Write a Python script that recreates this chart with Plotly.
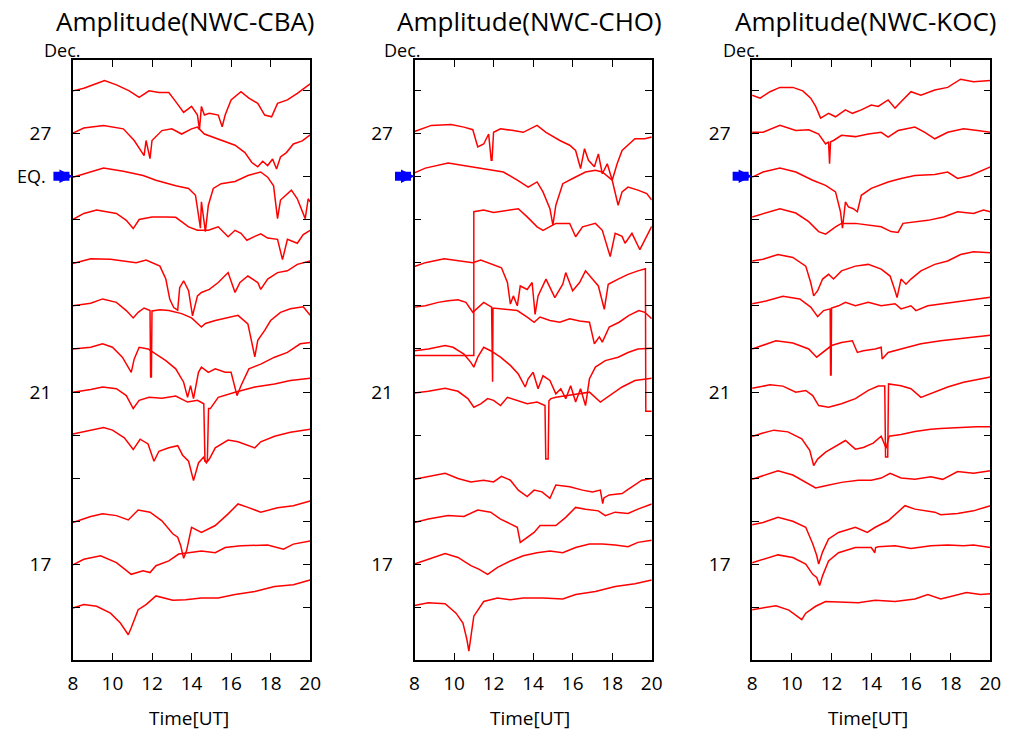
import plotly.graph_objects as go

# ---------------- DATA ----------------
# Time axis (UT hours) and amplitude deviation (arbitrary units, 10 units = one day spacing)
DAYS_TICKS = [16, 17, 18, 19, 20, 21, 22, 23, 24, 25, 26, 27, 28]
DAY_LABELS = ["", "17", "", "", "", "21", "", "", "", "", "", "27", ""]
X_TICKS = [8, 10, 12, 14, 16, 18, 20]
EQ_DAY = 26

# ---- NWC-CBA ----
cba28_t = [8, 8.55, 9.2, 9.6, 10.2, 10.85, 11.35, 11.6, 11.85, 12.35, 12.85, 13.2, 13.6, 14.0, 14.3, 14.4, 14.5, 14.65, 14.9, 15.35, 15.55, 15.7, 16.0, 16.5, 16.9, 17.35, 17.7, 18.05, 18.35, 18.85, 19.35, 20]
cba28_a = [-0.2, 0.4, 1.5, 2.2, 1.2, -0.2, -1.7, -0.9, -0.2, -0.6, -0.6, -2.7, -5.2, -3.8, -5.8, -9.2, -3.8, -5.8, -5.4, -5.8, -8.5, -5.8, -2.3, -0.4, -1.9, -3.1, -5.8, -6.2, -3.1, -2.3, -0.8, 1.4]
cba27_t = [8, 8.55, 9.55, 10.55, 11.1, 11.45, 11.6, 11.7, 11.9, 12.0, 12.5, 13.0, 13.5, 14.0, 14.3, 14.65, 15.35, 16.2, 16.7, 17.05, 17.35, 17.6, 17.85, 18.1, 18.3, 18.5, 18.8, 19.15, 19.6, 20]
cba27_a = [0, 1.2, 1.8, 1.0, -1.7, -4.0, -5.2, -1.7, -5.9, -1.7, 0.6, 1.0, -0.2, 1.0, 1.4, -0.2, -1.3, -2.8, -4.5, -6.8, -7.8, -6.5, -7.5, -6.0, -8.3, -5.5, -4.5, -2.5, -1.8, -0.4]
cba26_t = [8, 8.55, 9.55, 10.55, 11.55, 12.2, 13.2, 13.85, 14.2, 14.45, 14.5, 14.7, 14.85, 15.1, 15.5, 16.2, 16.85, 17.5, 17.85, 18.15, 18.35, 18.5, 19.05, 19.35, 19.6, 19.75, 19.9, 20]
cba26_a = [-0.2, 0.6, 1.9, 1.2, 0.2, -0.9, -2.2, -2.8, -4.4, -12.0, -5.9, -12.8, -6.7, -2.8, -1.7, -1.2, 0.2, 1.0, -0.2, -2.2, -9.8, -5.5, -3.2, -5.2, -8.2, -9.8, -5.2, -5.9]
cba25_t = [8, 8.55, 9.2, 10.2, 10.7, 11.05, 11.35, 12.0, 12.7, 13.2, 13.85, 14.3, 14.85, 15.35, 15.85, 16.2, 16.5, 16.8, 17.2, 17.5, 17.85, 18.35, 18.6, 18.85, 19.35, 19.65, 20]
cba25_a = [0, 1.4, 2.2, 1.4, -0.2, -2.1, 0, 0.6, 0.6, 0.5, -1.7, -2.5, -2.5, -1.7, -4.0, -2.5, -3.2, -4.8, -3.9, -3.3, -4.3, -4.6, -9.3, -4.6, -5.5, -3.5, -2.5]
cba24_t = [8, 8.9, 9.9, 11.2, 11.7, 12.4, 12.7, 12.9, 13.1, 13.3, 13.4, 13.6, 13.85, 14.05, 14.3, 14.5, 14.9, 15.35, 15.85, 16.2, 16.45, 16.85, 17.35, 17.5, 17.85, 18.35, 18.85, 19.35, 20]
cba24_a = [-0.2, 0.9, 0.8, 0, 0.6, -0.8, -3.8, -8.5, -10.4, -11.0, -5.8, -4.2, -6.5, -12.3, -7.7, -6.9, -6.2, -4.6, -2.3, -6.9, -4.6, -3.1, -4.6, -6.2, -3.8, -2.3, -1.9, -0.4, 0.4]
cba23_t = [8, 8.9, 9.5, 10.2, 10.7, 11.05, 11.3, 11.6, 11.9, 11.93, 11.97, 12.0, 12.4, 12.85, 13.5, 14.0, 14.5, 14.7, 15.2, 15.85, 16.35, 16.85, 17.05, 17.2, 17.35, 17.7, 18.0, 18.5, 19.0, 19.65, 20]
cba23_a = [0, 0.6, 1.6, 0.8, -1.1, -2.8, -1.5, -0.5, -1.1, -16.5, -16.5, -1.2, -0.9, -1.1, -1.8, -2.8, -4.9, -4.1, -3.4, -2.8, -2.2, -4.2, -8.8, -11.8, -8.0, -5.7, -3.4, -1.5, -0.7, -0.2, -2.2]
cba22_t = [8, 8.9, 9.5, 10.0, 10.5, 10.95, 11.1, 11.35, 11.8, 12.2, 12.7, 13.2, 13.6, 13.8, 13.95, 14.1, 14.35, 14.5, 14.85, 15.2, 15.7, 16.0, 16.2, 16.3, 16.5, 16.9, 17.5, 18.2, 18.85, 19.5, 20]
cba22_a = [0, 0.4, 1.2, 0.4, -1.9, -5.4, -2.3, 0.4, 0, -1.2, -2.7, -4.6, -7.7, -11.2, -8.5, -11.5, -5.4, -4.2, -5.4, -4.6, -5.4, -5.4, -9.2, -10.8, -8.5, -4.6, -3.5, -1.9, -0.8, 1.2, 1.5]
cba21_t = [8, 8.9, 9.5, 10.2, 10.7, 11.05, 11.35, 11.85, 12.5, 13.2, 13.8, 14.3, 14.62, 14.68, 14.8, 14.86, 14.95, 15.35, 16.2, 17.2, 18.2, 19.0, 20]
cba21_a = [0, 0.6, 1.2, 0.8, -0.8, -3.8, -1.9, -1.2, -1.4, -0.9, -2.3, -1.9, -2.7, -16.0, -16.0, -3.8, -3.8, -1.2, 0, 1.2, 1.9, 2.7, 3.2]
cba20_t = [8, 9, 9.55, 10, 10.6, 11.05, 11.4, 11.8, 12.1, 12.35, 12.85, 13.3, 13.55, 13.85, 14.1, 14.35, 14.6, 14.75, 14.9, 15.2, 15.85, 16.35, 16.85, 17.2, 17.5, 18.2, 19, 20]
cba20_a = [0.3, 1.2, 1.8, 1.2, -0.6, -3.3, -0.9, -2.0, -6.0, -3.7, -2.9, -2.4, -4.6, -6.0, -10.5, -6.4, -5.1, -6.4, -5.5, -2.9, -1.1, -1.5, -2.4, -2.9, -1.5, -0.2, 0.7, 1.4]
cba18_t = [8, 8.9, 9.5, 10.2, 10.8, 11.3, 11.9, 12.5, 13.05, 13.3, 13.45, 13.6, 13.75, 14.0, 14.5, 15.2, 15.85, 16.35, 16.85, 17.5, 18.35, 19.15, 20]
cba18_a = [-0.2, 1.2, 1.8, 1.4, 0.4, 2.7, 2.2, 0.2, -2.8, -3.6, -5.5, -8.5, -6.7, -1.3, -2.5, -0.9, 1.8, 4.1, 3.3, 2.2, 3.2, 3.7, 4.8]
cba17_t = [8, 8.55, 9.4, 10.2, 10.95, 11.55, 11.9, 12.2, 12.85, 13.35, 13.85, 14.5, 15.2, 15.7, 16.5, 17.85, 18.65, 19.15, 20]
cba17_a = [0, 1.3, 2.1, 0.5, -2.2, -1.4, -1.8, -0.2, 0.9, 2.5, 2.8, 3.2, 2.8, 4.0, 4.4, 4.6, 3.6, 4.8, 5.5]
cba16_t = [8, 8.55, 9.2, 9.9, 10.4, 10.7, 10.8, 10.95, 11.3, 11.7, 12.2, 13.05, 13.7, 14.5, 15.35, 16.2, 17.2, 18.2, 19.15, 20]
cba16_a = [0, 0.8, 0.4, -1.2, -3.5, -5.4, -6.2, -4.6, -0.4, 0.8, 2.8, 1.8, 1.9, 2.3, 2.3, 3.1, 3.8, 5.0, 5.4, 6.5]

# ---- NWC-CHO ----
cho27_t = [8, 8.35, 8.85, 9.85, 10.5, 10.95, 11.2, 11.5, 11.75, 11.88, 11.92, 12.0, 12.35, 13.0, 13.5, 14.2, 14.65, 15.35, 15.85, 16.15, 16.4, 16.6, 16.8, 17.1, 17.3, 17.5, 17.75, 18.0, 18.25, 18.5, 18.8, 19.15, 19.65, 20]
cho27_a = [0.4, 1.0, 1.8, 2.0, 1.4, 0.8, -3.2, -2.5, -0.2, -6.3, -6.3, 0.2, 1.0, 0.6, 0.2, 1.8, 0.2, -1.7, -2.8, -4.0, -8.2, -3.6, -6.3, -7.8, -4.8, -9.4, -7.1, -10.9, -7.1, -4.0, -2.8, -1.3, -1.3, -0.9]
cho26_t = [8, 8.55, 9.7, 10.5, 11.5, 12.5, 13.2, 13.75, 14.2, 14.5, 14.85, 15.0, 15.15, 15.5, 16.0, 16.65, 17.15, 17.5, 18.0, 18.3, 18.5, 18.8, 19.3, 19.75, 20]
cho26_a = [0.8, 1.9, 3.1, 2.5, 1.6, 1.0, -0.9, -2.5, -1.3, -3.6, -7.5, -11.3, -6.7, -1.7, -0.5, 1.0, 1.4, 1.0, -0.9, -6.7, -3.6, -2.5, -3.2, -4.0, -5.5]
cho25_t = [8, 11.0, 11.0, 11.5, 12.0, 12.85, 13.25, 13.7, 14.2, 14.5, 14.85, 15.15, 15.85, 16.15, 16.5, 17.15, 17.5, 17.9, 18.15, 18.5, 18.65, 19.0, 19.4, 19.65, 20]
cho25_a = [-31.5, -31.5, 1.8, 2.2, 1.6, 2.2, 2.5, 0.6, -1.7, -2.5, -1.7, -0.9, -0.9, -4.0, -1.7, -0.9, -2.5, -8.6, -3.2, -3.9, -5.5, -3.2, -7.0, -4.6, -1.6]
cho24_t = [8, 8.55, 9.5, 10.35, 10.95, 11.35, 12.0, 12.4, 12.7, 12.85, 13.0, 13.2, 13.35, 13.7, 13.95, 14.1, 14.25, 14.65, 15.1, 15.5, 15.65, 16.0, 16.35, 16.65, 17.0, 17.3, 17.6, 17.8, 18.3, 18.8, 19.3, 19.68, 19.7, 20]
cho24_a = [-0.9, 0, 0.9, 0.4, 0, 0.6, -0.4, -1.2, -4.6, -9.6, -7.7, -10.0, -5.4, -6.2, -4.6, -12.0, -7.7, -3.8, -8.1, -5.0, -2.3, -6.5, -4.6, -1.9, -3.8, -5.4, -10.8, -5.0, -3.8, -2.7, -1.9, -1.4, -34.4, -34.4]
cho23_t = [8, 8.55, 9.2, 9.7, 10.2, 10.6, 10.95, 11.3, 11.5, 11.9, 11.92, 11.95, 11.97, 12.5, 13.2, 13.7, 14.05, 14.35, 14.85, 15.35, 15.85, 16.35, 16.85, 17.1, 17.35, 17.5, 17.85, 18.35, 18.85, 19.35, 19.65, 20]
cho23_a = [-0.3, 0, 0.8, 1.2, 1.4, 0.8, -1.5, 0, 0.8, -0.3, -17.6, -17.6, -0.5, -0.7, -1.1, -2.6, -3.8, -2.6, -3.4, -3.8, -3.0, -3.5, -3.8, -8.8, -7.2, -8.4, -4.9, -3.8, -2.2, -1.1, -1.5, -3.0]
cho22_t = [8, 8.7, 9.55, 9.95, 10.5, 10.85, 11.0, 11.2, 11.5, 11.85, 12.35, 12.85, 13.25, 13.6, 13.75, 14.0, 14.25, 14.5, 14.85, 15.15, 15.4, 15.65, 15.9, 16.15, 16.4, 16.65, 16.85, 17.15, 17.65, 18.3, 18.8, 19.3, 20]
cho22_a = [-0.4, 0, 0.8, 0.4, -1.2, -3.1, -4.2, -1.9, 0.4, -0.4, -1.9, -3.8, -5.8, -8.8, -6.9, -5.4, -9.2, -6.2, -7.3, -10.4, -9.2, -11.5, -8.5, -12.3, -9.2, -13.1, -6.9, -4.2, -2.7, -1.9, -0.8, 0, 0.2]
cho21_t = [8, 8.7, 9.55, 10.2, 10.7, 11.0, 11.35, 11.7, 12.0, 12.35, 12.7, 13.2, 13.7, 14.2, 14.6, 14.64, 14.76, 14.8, 14.9, 15.15, 15.65, 16.15, 16.85, 17.4, 17.85, 18.5, 19.15, 20]
cho21_a = [-0.2, 0.2, 0.9, 0.2, -1.5, -3.5, -2.7, -1.5, -1.9, -3.1, -1.2, -1.9, -2.7, -2.3, -3.1, -15.5, -15.5, -2.0, -1.5, -1.2, -0.8, -0.4, 0, -2.3, -0.8, 1.2, 2.7, 3.2]
cho19_t = [8, 8.7, 9.55, 10.2, 10.85, 11.5, 12.0, 12.4, 12.85, 13.25, 13.7, 14.05, 14.45, 14.85, 15.15, 15.85, 16.5, 17.0, 17.4, 17.52, 17.58, 17.85, 18.5, 18.75, 19.15, 19.5, 20]
cho19_a = [-0.2, 0.5, 1.2, 0, -0.8, -0.4, -0.8, 0.5, -0.4, -2.7, -4.2, -2.7, -3.1, -4.6, -1.5, -1.9, -2.7, -3.1, -2.7, -5.8, -4.5, -3.8, -3.5, -2.7, -1.5, -0.4, 0]
cho18_t = [8, 8.7, 9.7, 10.5, 11.2, 11.85, 12.35, 12.85, 13.2, 13.35, 13.6, 14.05, 14.35, 15.15, 15.65, 16.15, 16.65, 17.3, 17.65, 18.15, 18.8, 19.3, 20]
cho18_a = [-0.2, 0.6, 1.4, 1.2, 2.7, 2.2, 0.6, -0.5, -1.3, -4.8, -4.0, -2.5, -0.9, -0.9, 1.0, 3.3, 2.9, 2.5, 1.4, 2.2, 1.9, 2.9, 4.1]
cho17_t = [8, 8.7, 9.55, 10.2, 10.85, 11.25, 11.7, 12.2, 12.85, 13.5, 14.2, 14.85, 15.5, 16.15, 16.85, 17.5, 18.15, 18.8, 19.3, 20]
cho17_a = [0.2, 1.3, 2.6, 1.7, -0.2, -1.0, -2.2, -0.6, 0.9, 2.1, 2.8, 3.2, 2.8, 4.0, 4.8, 4.8, 4.6, 4.2, 5.2, 5.7]
cho16_t = [8, 8.7, 9.55, 10.1, 10.45, 10.65, 10.75, 10.85, 11.0, 11.5, 12.2, 12.85, 13.5, 14.5, 15.5, 16.15, 17.15, 18.15, 19.15, 20]
cho16_a = [0.6, 1.2, 1.0, -1.2, -3.5, -7.3, -10.0, -6.5, -1.9, 1.5, 2.3, 1.9, 2.3, 2.3, 2.1, 3.1, 3.8, 5.0, 5.6, 6.5]

# ---- NWC-KOC ----
koc28_t = [8, 8.4, 8.9, 9.4, 10.05, 10.55, 10.95, 11.2, 11.45, 11.85, 12.2, 12.7, 13.05, 13.5, 14.0, 14.35, 14.85, 15.2, 15.5, 16.0, 16.5, 17.2, 17.85, 18.5, 19.15, 20]
koc28_a = [-1.2, -1.9, -0.4, 0.6, 0.6, -0.2, -1.9, -3.8, -6.5, -5.4, -6.2, -4.6, -5.4, -4.6, -3.5, -3.8, -2.3, -4.2, -2.7, -0.4, -1.2, 0, 0.6, 2.5, 1.9, 2.2]
koc27_t = [8, 8.55, 9.4, 10.2, 10.85, 11.35, 11.7, 11.85, 11.9, 11.95, 12.1, 12.5, 13.2, 13.85, 14.5, 14.85, 15.35, 16.2, 16.7, 17.2, 17.85, 18.65, 19.35, 20]
koc27_a = [0.2, 0.2, 1.8, 0.6, 0.8, -0.2, -2.5, -2.0, -7.1, -2.0, -1.7, -0.5, -0.8, -0.2, 0.2, -0.9, 0.6, 1.4, 0.2, -1.3, 0.2, 1.0, 0.6, 0.2]
koc26_t = [8, 8.55, 9.4, 10.2, 11.05, 11.7, 12.2, 12.45, 12.55, 12.7, 12.85, 13.1, 13.3, 13.5, 14.0, 14.85, 15.5, 16.2, 17.2, 17.85, 18.35, 19.0, 20]
koc26_a = [-0.2, 1.0, 1.9, 1.0, -0.9, -2.1, -3.6, -8.2, -12.0, -5.9, -7.1, -7.5, -8.2, -4.4, -2.8, -1.3, -0.5, 0.2, 0.4, 1.0, -0.5, 0.2, 2.2]
koc25_t = [8, 8.55, 9.4, 10.2, 10.85, 11.35, 11.7, 12.2, 12.5, 13.2, 13.85, 14.5, 15.0, 15.35, 15.6, 16.2, 16.85, 17.65, 18.35, 19.15, 19.65, 20]
koc25_a = [0.6, 1.4, 2.5, 1.5, -0.5, -2.8, -3.4, -1.7, -0.9, -0.9, -1.3, -1.7, -2.8, -3.0, -0.9, -0.5, -0.2, 0.6, 1.8, 1.4, 2.2, 1.8]
koc24_t = [8, 8.55, 9.3, 10.05, 10.7, 10.95, 11.1, 11.3, 11.55, 11.85, 12.1, 12.5, 13.2, 13.85, 14.5, 14.95, 15.2, 15.3, 15.5, 15.75, 16.0, 16.5, 17.2, 17.85, 18.5, 19.15, 20]
koc24_a = [0.4, 0.8, 1.9, 1.2, -0.8, -4.6, -7.7, -6.5, -3.8, -2.7, -3.8, -1.9, -0.8, -0.4, -1.5, -3.1, -6.5, -8.1, -3.8, -5.0, -3.8, -1.9, -0.4, 0.4, 1.9, 2.5, 2.3]
koc23_t = [8, 8.7, 9.55, 10.4, 10.95, 11.3, 11.6, 11.85, 11.93, 11.95, 11.98, 12.0, 12.35, 12.7, 13.2, 13.85, 14.5, 15.2, 15.5, 16.0, 16.25, 16.85, 17.65, 18.65, 20]
koc23_a = [0.5, 1.1, 2.2, 1.6, -0.3, -2.5, -1.1, -0.7, -0.7, -16.0, -16.0, -0.5, 0, 0.8, 0, 0.8, 0, 0.5, -0.7, 0, -1.1, 0, 0.5, 1.1, 2.0]
koc22_t = [8, 8.55, 9.2, 10.05, 10.85, 11.25, 11.55, 12.0, 12.5, 13.05, 13.3, 13.6, 14.2, 14.5, 14.55, 14.85, 15.5, 16.5, 17.5, 18.65, 19.5, 20]
koc22_a = [0, 0.8, 1.9, 1.4, 0, -1.9, -0.8, 0.8, 1.5, 1.9, -0.8, -0.4, 0, 0.4, -2.3, -0.8, 0, 1.2, 1.9, 2.5, 2.9, 3.2]
koc21_t = [8, 8.9, 9.55, 10.2, 10.7, 11.05, 11.35, 11.85, 12.5, 13.2, 13.85, 14.35, 14.68, 14.72, 14.83, 14.87, 15.5, 16.0, 16.5, 17.2, 17.85, 18.65, 20]
koc21_a = [0.9, 1.7, 1.4, 0, 0.4, -0.8, -3.1, -3.5, -2.7, -1.5, 0.4, 1.4, 1.4, -15.0, -15.0, 1.9, 1.5, 0.8, -1.2, 0, 1.2, 2.3, 3.5]
koc20_t = [8, 8.5, 9.1, 9.8, 10.5, 10.9, 11.1, 11.3, 11.7, 12.2, 12.7, 13.2, 13.6, 14.1, 14.5, 14.75, 14.9, 15.5, 16.2, 17.0, 17.5, 18.5, 19.3, 20]
koc20_a = [-0.3, 0.5, 1.2, 0.8, -0.8, -3.5, -7.0, -5.5, -3.9, -2.5, -1.2, -3.2, -2.8, -1.8, -0.2, -3.0, -0.2, 0.2, 0.9, 1.4, 1.6, 1.8, 2.0, 2.0]
koc19_t = [8, 8.55, 9.3, 10.05, 10.7, 11.2, 11.7, 12.5, 13.35, 14.0, 14.5, 14.95, 15.5, 16.2, 17.0, 17.6, 18.35, 19.15, 20]
koc19_a = [-0.2, 0.6, 1.8, 0.8, -0.9, -2.2, -1.7, -0.9, -0.4, -0.4, 0.1, 1.2, 0.1, -0.2, 0.4, -0.2, 1.6, 1.2, 1.8]
koc18_t = [8, 8.55, 9.3, 10.05, 10.7, 11.05, 11.25, 11.35, 11.55, 11.85, 12.35, 13.2, 13.8, 14.2, 14.85, 15.7, 16.2, 17.2, 17.5, 18.35, 19.15, 20]
koc18_a = [-0.7, -0.2, 1.0, 0.1, -1.3, -5.1, -7.8, -9.8, -7.0, -4.0, -2.5, -1.3, -2.5, -1.3, 0.2, 3.7, 2.9, 2.2, 1.6, 1.9, 2.5, 3.7]
koc17_t = [8, 8.55, 9.3, 10.05, 10.7, 11.05, 11.25, 11.4, 11.55, 11.85, 12.35, 13.2, 14.0, 14.18, 14.22, 14.35, 15.2, 16.0, 17.0, 17.85, 18.65, 19.15, 20]
koc17_a = [0.5, 1.3, 2.3, 1.7, 0.2, -2.2, -2.9, -4.8, -2.5, 0.9, 2.8, 4.0, 4.0, 2.8, 4.0, 4.2, 4.4, 3.8, 4.4, 4.6, 4.4, 4.6, 4.0]
koc16_t = [8, 8.55, 9.2, 9.85, 10.3, 10.5, 10.7, 11.2, 11.7, 12.5, 13.35, 14.2, 15.2, 16.2, 16.85, 17.5, 18.15, 18.8, 19.5, 20]
koc16_a = [-0.4, 0, 0.5, -0.5, -1.9, -2.7, -1.2, 0.4, 1.5, 1.3, 1.2, 1.8, 1.5, 2.1, 3.1, 2.1, 2.8, 3.6, 3.1, 3.3]

CBA_TRACES = [(28, cba28_t, cba28_a), (27, cba27_t, cba27_a), (26, cba26_t, cba26_a),
              (25, cba25_t, cba25_a), (24, cba24_t, cba24_a), (23, cba23_t, cba23_a),
              (22, cba22_t, cba22_a), (21, cba21_t, cba21_a), (20, cba20_t, cba20_a),
              (18, cba18_t, cba18_a), (17, cba17_t, cba17_a), (16, cba16_t, cba16_a)]
CHO_TRACES = [(27, cho27_t, cho27_a), (26, cho26_t, cho26_a), (25, cho25_t, cho25_a),
              (24, cho24_t, cho24_a), (23, cho23_t, cho23_a), (22, cho22_t, cho22_a),
              (21, cho21_t, cho21_a), (19, cho19_t, cho19_a), (18, cho18_t, cho18_a),
              (17, cho17_t, cho17_a), (16, cho16_t, cho16_a)]
KOC_TRACES = [(28, koc28_t, koc28_a), (27, koc27_t, koc27_a), (26, koc26_t, koc26_a),
              (25, koc25_t, koc25_a), (24, koc24_t, koc24_a), (23, koc23_t, koc23_a),
              (22, koc22_t, koc22_a), (21, koc21_t, koc21_a), (20, koc20_t, koc20_a),
              (19, koc19_t, koc19_a), (18, koc18_t, koc18_a), (17, koc17_t, koc17_a),
              (16, koc16_t, koc16_a)]
PANEL_TITLES = ["Amplitude(NWC-CBA)", "Amplitude(NWC-CHO)", "Amplitude(NWC-KOC)"]
PANEL_TRACES = [CBA_TRACES, CHO_TRACES, KOC_TRACES]

AMP_SCALE = 0.1  # amplitude units -> day spacing

# ---------------- FIGURE ----------------
W, H = 1024, 740   # reference frame used for the fractional layout
FONT = "Open Sans"
x_domains = [(69 / W, 310 / W), (416 / W, 657 / W), (759 / W, 1001 / W)]
y_domain = (1 - 660 / H, 1 - 60 / H)
title_x = [183, 533, 874]
dec_x = [58, 404, 748]
time_x = [187, 533, 877]

fig = go.Figure()
for i, traces in enumerate(PANEL_TRACES):
    xa = "x" if i == 0 else f"x{i + 1}"
    ya = "y" if i == 0 else f"y{i + 1}"
    for day, t, a in traces:
        fig.add_trace(go.Scatter(
            x=t, y=[day + v * AMP_SCALE for v in a], mode="lines",
            line=dict(color="#ff0000", width=1.5),
            xaxis=xa, yaxis=ya, showlegend=False, hoverinfo="skip"))

axis_common = dict(showline=True, linecolor="black", linewidth=1.6, mirror="ticks",
                   ticks="inside", ticklen=7, tickwidth=1.4, tickcolor="black",
                   showgrid=False, zeroline=False, fixedrange=True)
layout = dict(autosize=True, margin=dict(l=0, r=0, t=0, b=0),
              paper_bgcolor="white", plot_bgcolor="white",
              font=dict(family=FONT, color="black"), annotations=[])
for i in range(3):
    xkey = "xaxis" if i == 0 else f"xaxis{i + 1}"
    ykey = "yaxis" if i == 0 else f"yaxis{i + 1}"
    yname = "y" if i == 0 else f"y{i + 1}"
    xname = "x" if i == 0 else f"x{i + 1}"
    layout[xkey] = dict(axis_common, domain=list(x_domains[i]), range=[8, 20],
                        tickvals=X_TICKS, ticktext=[str(v) for v in X_TICKS],
                        tickfont=dict(size=19, family=FONT), anchor=yname,
                        ticklabelstandoff=5)
    layout[ykey] = dict(axis_common, domain=list(y_domain), range=[14.795, 28.695],
                        tickvals=DAYS_TICKS, ticktext=DAY_LABELS,
                        tickfont=dict(size=19, family=FONT), anchor=xname,
                        ticklabelstandoff=16)
    layout["annotations"].append(dict(text=PANEL_TITLES[i], xref="paper", yref="paper",
                                      x=title_x[i] / W, y=1 - 21.5 / H, xanchor="center",
                                      yanchor="middle", showarrow=False,
                                      font=dict(size=26, family=FONT)))
    layout["annotations"].append(dict(text="Dec.", xref="paper", yref="paper",
                                      x=dec_x[i] / W, y=1 - 50 / H, xanchor="center",
                                      yanchor="middle", showarrow=False,
                                      font=dict(size=18, family=FONT)))
    layout["annotations"].append(dict(text="Time[UT]", xref="paper", yref="paper",
                                      x=time_x[i] / W, y=1 - 718 / H, xanchor="center",
                                      yanchor="middle", showarrow=False,
                                      font=dict(size=19, family=FONT)))
    layout["annotations"].append(dict(text="", xref=xname, yref=yname, x=8, y=EQ_DAY,
                                      showarrow=True, ax=-21, ay=0, arrowhead=2,
                                      arrowsize=0.3, arrowwidth=9, arrowcolor="#0000ff",
                                      standoff=0))
layout["annotations"].append(dict(text="EQ.", xref="paper", yref="y", x=44 / W, y=EQ_DAY,
                                  xanchor="right", yanchor="middle", showarrow=False,
                                  font=dict(size=18, family=FONT)))
fig.update_layout(**layout)
fig.write_html("out.html", default_width="100vw", default_height="100vh",
               config={"displayModeBar": False, "responsive": True},
               post_script="document.body.style.margin='0px';"
                           "document.body.style.overflow='hidden';"
                           "Plotly.Plots.resize(document.getElementById('{plot_id}'));")
